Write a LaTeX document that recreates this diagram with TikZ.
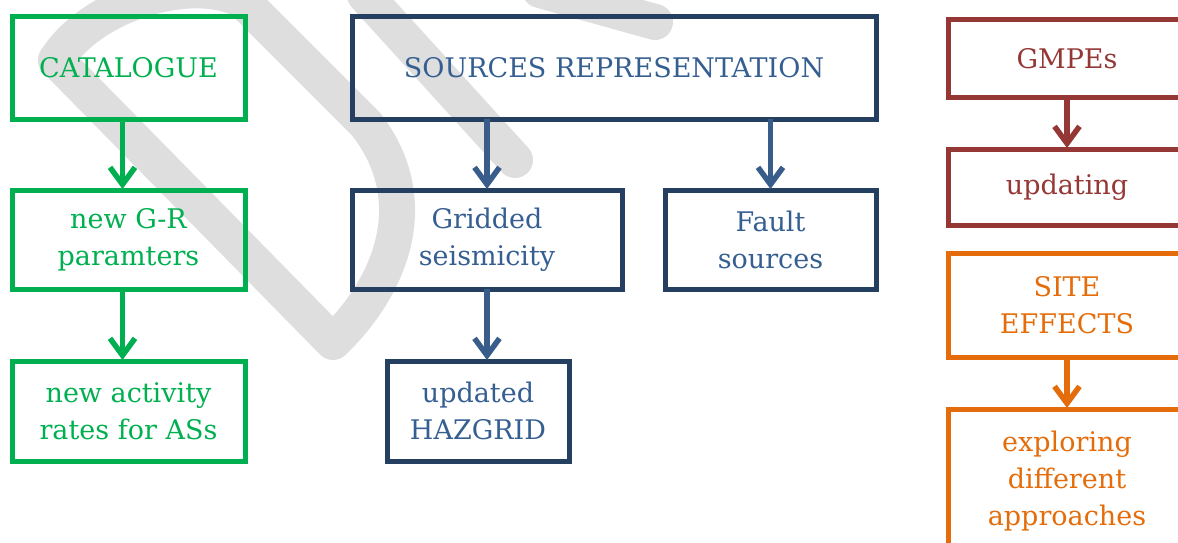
\documentclass[tikz,border=0pt]{standalone}
\usepackage{fontspec}
\setmainfont{DejaVu Serif}
\usepackage{tikz}
\usepackage{xcolor}
\usetikzlibrary{arrows.meta, positioning}

\definecolor{catgreen}{HTML}{00B050}
\definecolor{srcnavy}{HTML}{243F60}
\definecolor{srcblue}{HTML}{365F91}
\definecolor{srcarrow}{HTML}{385D8A}
\definecolor{gmpered}{HTML}{953735}
\definecolor{siteorange}{HTML}{E46C0A}
\definecolor{markgray}{HTML}{DEDEDE}

\begin{document}
\begin{tikzpicture}[x=1pt, y=-1pt,
  box/.style={draw, rectangle, line width=5pt, outer sep=0pt, inner sep=0pt,
    align=center, font=\fontsize{27}{37}\selectfont},
  catbox/.style={box, draw=catgreen, text=catgreen},
  srcbox/.style={box, draw=srcnavy, text=srcblue},
  gmpebox/.style={box, draw=gmpered, text=gmpered},
  sitebox/.style={box, draw=siteorange, text=siteorange},
  flow/.style={line width=5.5pt, -{Straight Barb[length=17pt,width=25pt]}, shorten >=1pt},
  markband/.style={markgray, line width=36pt, line cap=round, line join=round}]
\useasboundingbox (0,0) rectangle (1178,543);
\clip (0,0) rectangle (1178,543);

% watermark behind
\draw[markband] (56,60) -- (333,342) .. controls (392,285) and (425,200) .. (366,124)
  -- (242,0) .. controls (195,-25) and (95,0) .. cycle;
\draw[markband] (365,-5) -- (515,160);
\draw[markband] (540,-10) -- (655,22);

% Catalogue
\node[catbox, minimum width=233pt, minimum height=102pt] (cat) at (128.5,68) {CATALOGUE};
\node[catbox, minimum width=233pt, minimum height=99pt, below=71pt of cat] (grpar) {new G-R\\paramters};
\node[catbox, minimum width=233pt, minimum height=100pt, below=72pt of grpar] (rates) {new activity\\rates for ASs};

\draw[flow, catgreen] ([xshift=-6pt]cat.south) -- ([xshift=-6pt]grpar.north);
\draw[flow, catgreen] ([xshift=-6pt]grpar.south) -- ([xshift=-6pt]rates.north);

% Sources
\node[srcbox, minimum width=524pt, minimum height=102pt] (src) at (614,68) {SOURCES REPRESENTATION};
\node[srcbox, minimum width=270pt, minimum height=99pt, below right=71pt and 0pt of src.south west] (grid) {Gridded\\seismicity};
\node[srcbox, minimum width=211pt, minimum height=99pt, below left=71pt and 0pt of src.south east] (fault) {Fault\\sources};
\node[srcbox, minimum width=182pt, minimum height=100pt, below=72pt of grid, xshift=-9pt] (hazgrid) {updated\\HAZGRID};

\draw[flow, srcarrow] (grid.north |- src.south) -- (grid.north);
\draw[flow, srcarrow] (fault.north |- src.south) -- (fault.north);
\draw[flow, srcarrow] (grid.south) -- (grid.south |- hazgrid.north);

% GMPEs and site effects
\node[gmpebox, minimum width=238pt, minimum height=77pt] (gmpe) at (1067,58.5) {GMPEs};
\node[gmpebox, minimum width=238pt, minimum height=76pt, below=52pt of gmpe] (upd) {updating};
\node[sitebox, minimum width=238pt, minimum height=104pt, below=28pt of upd] (site) {SITE\\EFFECTS};
\node[sitebox, minimum width=238pt, minimum height=144pt, below=52pt of site] (expl) {exploring\\different\\approaches};

\draw[flow, gmpered] (gmpe.south) -- (upd.north);
\draw[flow, siteorange] (site.south) -- (expl.north);
\end{tikzpicture}
\end{document}
